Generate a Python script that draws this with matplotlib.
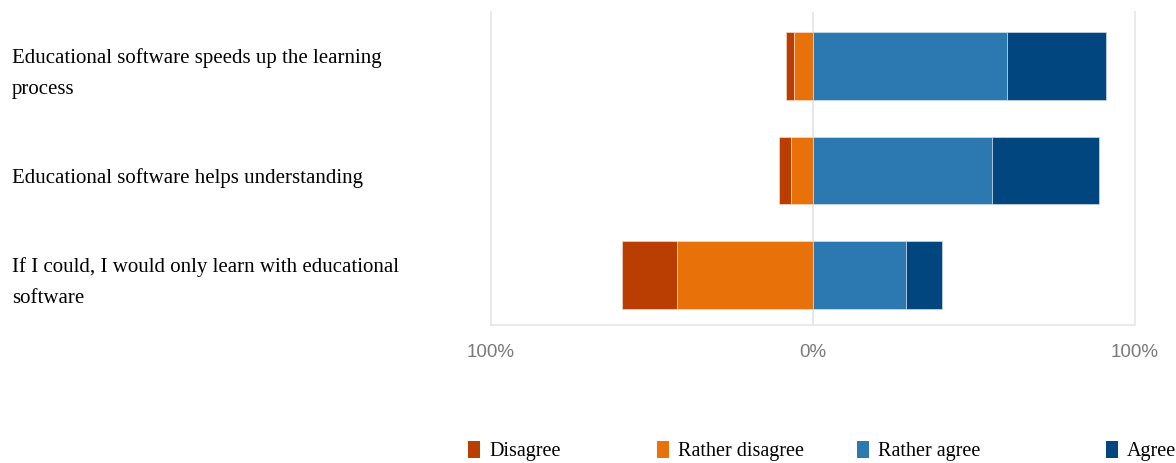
import matplotlib
matplotlib.use("Agg")
import matplotlib.pyplot as plt
from matplotlib.patches import Patch
from matplotlib.transforms import blended_transform_factory

# survey statements, top to bottom
statements = [
    "Educational software speeds up the learning\nprocess",
    "Educational software helps understanding",
    "If I could, I would only learn with educational\nsoftware",
]
# shares in percent
disagree = [2.5, 3.7, 17.1]
rather_disagree = [6.0, 6.9, 42.3]
rather_agree = [60.2, 55.5, 28.8]
agree = [30.8, 33.4, 11.4]

categories = ["Disagree", "Rather disagree", "Rather agree", "Agree"]
colors = ["#BA3D02", "#E8710A", "#2C79B1", "#01467F"]

tick_values = [-100, 0, 100]
tick_labels = ["100%", "0%", "100%"]

fig = plt.figure(figsize=(11.76, 4.63), dpi=100)
ax = fig.add_axes([491 / 1176, 1 - 325 / 463, (1135 - 491) / 1176, (325 - 12) / 463])

y = list(range(len(statements)))
h = 0.65
ax.axvline(0, color="#e3e3e3", lw=1.2, zorder=1)

neg_rd = [-v for v in rather_disagree]
neg_d = [-(a + b) for a, b in zip(rather_disagree, disagree)]
ax.barh(y, disagree, left=neg_d, height=h, color=colors[0], edgecolor="#f3d8cc", lw=0.5, zorder=2)
ax.barh(y, rather_disagree, left=neg_rd, height=h, color=colors[1], edgecolor="#f8dcc4", lw=0.5, zorder=2)
ax.barh(y, rather_agree, left=0, height=h, color=colors[2], edgecolor="#cfe0ee", lw=0.5, zorder=2)
ax.barh(y, agree, left=rather_agree, height=h, color=colors[3], edgecolor="#cfdbe8", lw=0.5, zorder=2)

ax.set_xlim(-100, 100)
ax.set_ylim(2.48, -0.52)
ax.set_xticks(tick_values)
ax.set_xticklabels(tick_labels, fontfamily="Liberation Sans", fontsize=13.5, color="#7a7a7a")
ax.tick_params(axis="x", length=0, pad=14)
ax.set_yticks([])
for side in ["left", "right", "bottom"]:
    ax.spines[side].set_color("#e6e6e6")
    ax.spines[side].set_linewidth(1.2)
ax.spines["top"].set_visible(False)

# statement labels at the left edge of the figure
label_tf = blended_transform_factory(fig.transFigure, ax.transData)
for yi, label in zip(y, statements):
    ax.text(12 / 1176, yi + 0.07, label, transform=label_tf,
            ha="left", va="center", fontfamily="Liberation Serif", fontsize=15, linespacing=1.85)

# legend entries placed one by one
legend_x = [468, 657, 857, 1106]
for x, name, c in zip(legend_x, categories, colors):
    fig.legend(handles=[Patch(facecolor=c, edgecolor="none")], labels=[name],
               loc="center left", bbox_to_anchor=(x / 1176, 1 - 451 / 463), frameon=False,
               prop={"family": "Liberation Serif", "size": 14.5}, handlelength=0.6, handleheight=0.9,
               handletextpad=0.45, borderpad=0, borderaxespad=0)

fig.savefig("out.png", dpi=100)
